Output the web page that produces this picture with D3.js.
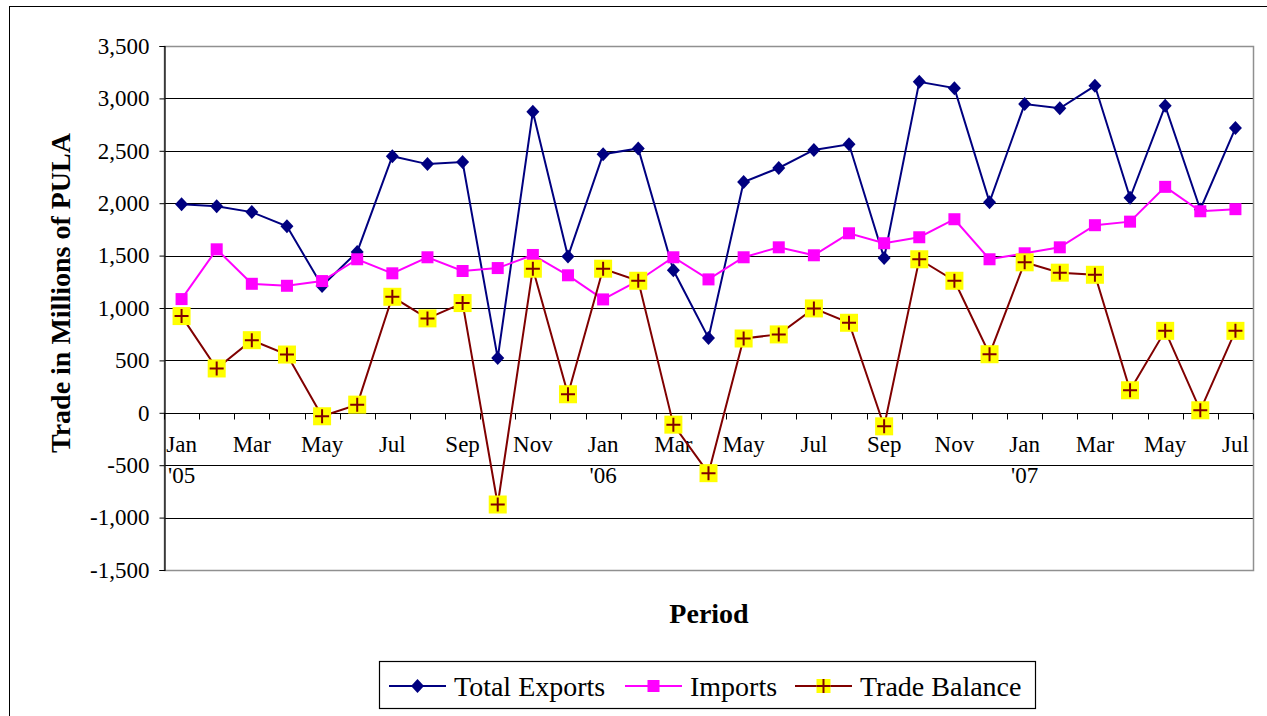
<!DOCTYPE html>
<html lang="en">
  <head>
    <meta charset="utf-8">
    <title>Botswana trade 2005-2007</title>
    <style type="text/css">
      body{
        margin: 0;
        background: #fff;
      }
      svg text{
        font-family: "Liberation Serif", "Times New Roman", serif;
        fill: #000;
      }
    </style>
    <script src="https://cdn.jsdelivr.net/npm/d3@7"></script>
  </head>
  <body>
    <div class="chart"></div>
    <script type="text/javascript">
      //month names for Jan 2005 .. Jul 2007
      var monthNames = ["Jan","Feb","Mar","Apr","May","Jun","Jul","Aug","Sep","Oct","Nov","Dec"];
      var periods = d3.range(31).map(i => monthNames[i % 12] + " " + (2005 + Math.floor(i / 12)));

      //year labels shown under the January ticks
      var yearLabels = [[0, "'05"], [12, "'06"], [24, "'07"]];

      //values, millions of pula
      var exports = [1990, 1970, 1915, 1780, 1210, 1535, 2448, 2373, 2392, 522, 2872, 1492,
        2468, 2523, 1360, 714, 2202, 2336, 2508, 2562, 1477, 3158, 3098, 2010,
        2946, 2906, 3120, 2052, 2929, 1940, 2717];
      var imports = [1085, 1560, 1231, 1212, 1257, 1465, 1331, 1484, 1353, 1381, 1506, 1312,
        1082, 1260, 1484, 1273, 1484, 1579, 1503, 1713, 1618, 1675, 1847, 1465,
        1522, 1579, 1790, 1824, 2156, 1923, 1943];
      var balance = [923, 423, 693, 556, -33, 78, 1107, 901, 1047, -875, 1375, 177,
        1375, 1260, -113, -576, 709, 748, 996, 859, -129, 1465, 1260, 559,
        1436, 1337, 1317, 215, 782, 24, 782];

      var yTicks = [-1500, -1000, -500, 0, 500, 1000, 1500, 2000, 2500, 3000, 3500];

      var series = [
        {name: "Total Exports", values: exports, color: "#000080", marker: "diamond"},
        {name: "Imports", values: imports, color: "#ff00ff", marker: "square"},
        {name: "Trade Balance", values: balance, color: "#800000", marker: "plus"}
      ];

      var width = 1267;
      var height = 716;
      var plot = {left: 164, right: 1253, top: 46, bottom: 570};
      var serif = "'Liberation Serif', 'Times New Roman', serif";

      var svg = d3.select(".chart")
        .append("svg")
        .attr("width", width)
        .attr("height", height)
        .attr("font-family", serif);

      //outer chart frame
      svg.append("rect")
        .attr("x", 9.5).attr("y", 6.5)
        .attr("width", width + 20).attr("height", height + 20)
        .attr("fill", "none").attr("stroke", "#000").attr("stroke-width", 1);

      var x = d3.scaleBand()
        .domain(d3.range(periods.length))
        .range([plot.left, plot.right])
        .padding(0);

      var y = d3.scaleLinear()
        .domain([-1500, 3500])
        .range([plot.bottom, plot.top]);

      //gridlines
      svg.append("g")
        .selectAll("line")
        .data(yTicks.filter(d => d != 3500 && d != -1500))
        .enter()
        .append("line")
        .attr("x1", plot.left).attr("x2", plot.right)
        .attr("y1", d => Math.round(y(d)) + 0.5)
        .attr("y2", d => Math.round(y(d)) + 0.5)
        .attr("stroke", "#000").attr("stroke-width", 1);

      //plot area border (grey)
      svg.append("rect")
        .attr("x", plot.left + 0.5).attr("y", Math.round(y(3500)) + 0.5)
        .attr("width", plot.right - plot.left)
        .attr("height", Math.round(y(-1500)) - Math.round(y(3500)))
        .attr("fill", "none").attr("stroke", "#909090").attr("stroke-width", 1.5);

      //y axis
      var fmt = d3.format(",");
      var yAxis = svg.append("g")
        .attr("transform", `translate(${plot.left + 0.5},0)`)
        .call(d3.axisLeft(y).tickValues(yTicks).tickSize(5).tickPadding(10)
          .tickFormat(d => fmt(d).replace("\u2212", "-")))
        .attr("font-family", serif);
      yAxis.select(".domain").attr("stroke", "#000").attr("stroke-width", 1.2);
      yAxis.selectAll("text").style("font-size", "23px");

      //category axis at zero, ticks between months
      var zeroY = Math.round(y(0)) + 0.5;
      var xAxis = svg.append("g");
      xAxis.append("line")
        .attr("x1", plot.left).attr("x2", plot.right)
        .attr("y1", zeroY).attr("y2", zeroY)
        .attr("stroke", "#000").attr("stroke-width", 1.2);
      xAxis.selectAll(".tick")
        .data(d3.range(periods.length + 1))
        .enter()
        .append("line")
        .attr("x1", d => Math.round(d < periods.length ? x(d) : plot.right) + 0.5)
        .attr("x2", d => Math.round(d < periods.length ? x(d) : plot.right) + 0.5)
        .attr("y1", zeroY).attr("y2", zeroY + 6)
        .attr("stroke", "#000");
      xAxis.selectAll(".mlabel")
        .data(d3.range(0, periods.length, 2))
        .enter()
        .append("text")
        .attr("x", d => x(d) + x.bandwidth() / 2)
        .attr("y", zeroY + 38)
        .attr("text-anchor", "middle")
        .style("font-size", "23px")
        .text(d => periods[d].split(" ")[0]);
      xAxis.selectAll(".ylabel")
        .data(yearLabels)
        .enter()
        .append("text")
        .attr("x", d => x(d[0]) + x.bandwidth() / 2)
        .attr("y", zeroY + 69)
        .attr("text-anchor", "middle")
        .style("font-size", "23px")
        .text(d => d[1]);

      //axis titles
      svg.append("text")
        .attr("transform", "translate(60,293) rotate(-90)")
        .attr("text-anchor", "middle")
        .attr("dominant-baseline", "central")
        .style("font-size", "28px").style("font-weight", "bold")
        .text("Trade in Millions of PULA");
      svg.append("text")
        .attr("x", 709).attr("y", 623)
        .attr("text-anchor", "middle")
        .style("font-size", "28px").style("font-weight", "bold")
        .text("Period");

      //draws one marker at (cx, cy); size of the yellow box differs in the legend
      function drawMarker(g, s, cx, cy, box){
        if(s.marker == "diamond"){
          g.append("path")
            .attr("d", `M${cx},${cy - 7}L${cx + 6.5},${cy}L${cx},${cy + 7}L${cx - 6.5},${cy}Z`)
            .attr("fill", s.color);
        }else if(s.marker == "square"){
          g.append("rect")
            .attr("x", cx - 6).attr("y", cy - 6)
            .attr("width", 12).attr("height", 12)
            .attr("fill", s.color);
        }else{
          var h = box / 2;
          g.append("rect")
            .attr("x", cx - h).attr("y", cy - h)
            .attr("width", box).attr("height", box)
            .attr("fill", "#ffff00");
          g.append("path")
            .attr("d", `M${cx - 7},${cy}H${cx + 7}M${cx},${cy - 7}V${cy + 7}`)
            .attr("stroke", s.color).attr("stroke-width", 2);
        }
      }

      var line = d3.line()
        .x((d, i) => x(i) + x.bandwidth() / 2)
        .y(d => y(d));

      series.forEach(s => {
        var g = svg.append("g");
        g.append("path")
          .datum(s.values)
          .attr("d", line)
          .attr("fill", "none")
          .attr("stroke", s.color)
          .attr("stroke-width", 2);
        s.values.forEach((v, i) => drawMarker(g, s, x(i) + x.bandwidth() / 2, y(v), 18));
      });

      //legend
      var legend = svg.append("g");
      legend.append("rect")
        .attr("x", 379.5).attr("y", 661.5)
        .attr("width", 656).attr("height", 47)
        .attr("fill", "#fff").attr("stroke", "#000").attr("stroke-width", 1.2);
      var legendX = [389, 625, 795];
      series.forEach((s, i) => {
        var g = legend.append("g");
        var lx = legendX[i];
        g.append("line")
          .attr("x1", lx).attr("x2", lx + 57)
          .attr("y1", 686).attr("y2", 686)
          .attr("stroke", s.color).attr("stroke-width", 2);
        drawMarker(g, s, lx + 28.5, 686, 14);
        g.append("text")
          .attr("x", lx + 65)
          .attr("y", 686)
          .attr("dominant-baseline", "central")
          .style("font-size", "28px")
          .text(s.name);
      });
    </script>
  </body>
</html>
